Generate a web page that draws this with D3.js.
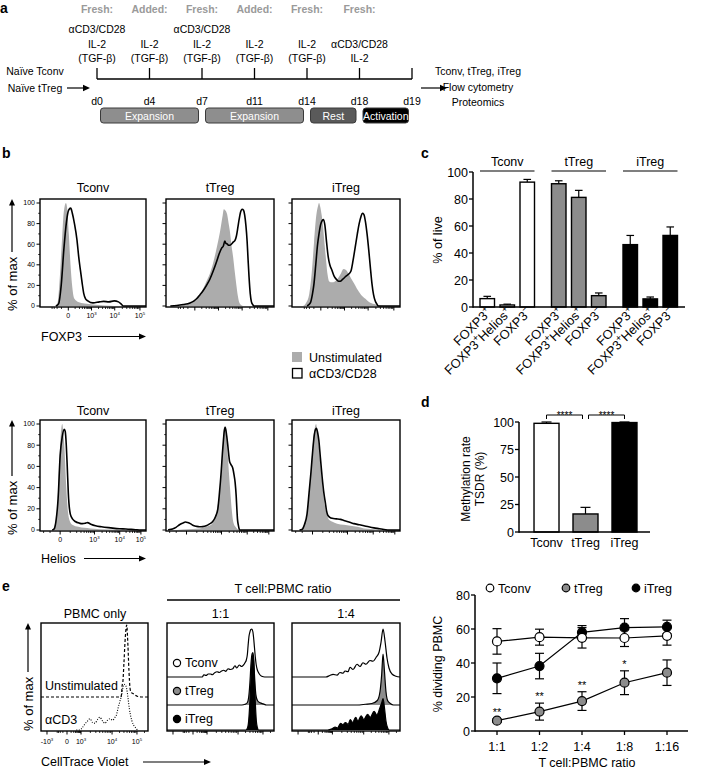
<!DOCTYPE html>
<html><head><meta charset="utf-8">
<script src="https://cdn.jsdelivr.net/npm/d3@7"></script>
<style>
body{margin:0;background:#fff;}
svg{display:block;font-family:"Liberation Sans",Arial,Helvetica,sans-serif;}
</style></head><body>
<svg id="fig" width="709" height="769"></svg>
<script>
// ================= DATA =================
// ---- panel a
const days = ["d0","d4","d7","d11","d14","d18","d19"];
const additionKind = ["Fresh:","Added:","Fresh:","Added:","Fresh:","Fresh:"];
const additionItems = [
  ["αCD3/CD28","IL-2","(TGF-β)"],
  ["IL-2","(TGF-β)"],
  ["αCD3/CD28","IL-2","(TGF-β)"],
  ["IL-2","(TGF-β)"],
  ["IL-2","(TGF-β)"],
  ["αCD3/CD28","IL-2"]
];
const phaseNames = ["Expansion","Expansion","Rest","Activation"];
const phaseFrom = ["d0","d7","d14","d18"];
const phaseTo = ["d7","d14","d18","d19"];
const inputCells = ["Naïve Tconv","Naïve tTreg"];
const outputs = ["Tconv, tTreg, iTreg","Flow cytometry","Proteomics"];

// ---- panel b (channel 0-1000, % of max)
const cellTypes = ["Tconv","tTreg","iTreg"];
const foxp3Unstim_Tconv = [[140,0],[165,3],[185,25],[205,60],[225,92],[245,100],[258,93],[272,70],[288,40],[305,18],[325,7],[360,4],[420,2.5],[500,1.5],[600,0.5],[700,0],[1000,0]];
const foxp3Stim_Tconv = [[150,0],[175,2],[200,20],[225,55],[250,82],[270,93],[290,95],[305,90],[325,80],[349,64],[365,48],[381,35],[398,22],[413,12],[430,7],[451,5],[500,3],[560,4],[600,4.5],[650,4],[700,5],[740,4],[765,2],[785,0],[1000,0]];
const foxp3Unstim_tTreg = [[80,0],[160,1],[222,3],[280,7],[314,11],[345,17],[375,24],[405,31],[437,42],[460,52],[483,63],[500,72],[514,81],[525,88],[535,94],[548,93],[566,89],[580,80],[591,73],[605,60],[622,47],[637,33],[652,20],[665,10],[677,4],[695,1],[714,0],[1000,0]];
const foxp3Stim_tTreg = [[40,0],[100,0.5],[160,1.5],[222,3],[260,5],[283,7],[315,11],[345,15],[375,20],[406,26],[437,34],[468,43],[490,50],[514,56],[530,58],[545,63],[554,61],[569,60],[580,59],[591,59],[605,60],[622,62],[640,64],[652,68],[665,76],[677,84],[690,91],[705,94],[718,93],[729,88],[740,78],[751,63],[760,45],[769,28],[780,12],[791,4],[805,1],[815,0],[1000,0]];
const foxp3Unstim_iTreg = [[100,0],[130,3],[160,12],[185,35],[204,62],[225,88],[241,97],[250,100],[262,96],[275,88],[287,78],[300,62],[315,45],[330,30],[343,24],[360,23],[380,23],[400,24],[426,27],[450,31],[477,36],[500,35],[525,31],[546,27],[574,22],[600,17],[639,11],[680,7],[713,4],[760,2],[796,1],[850,0],[1000,0]];
const foxp3Stim_iTreg = [[140,0],[170,3],[190,12],[204,22],[220,40],[235,58],[250,70],[265,79],[280,83],[292,84],[305,78],[320,62],[335,48],[350,40],[369,35],[390,29],[410,26],[430,24],[446,24],[470,26],[500,29],[525,31],[546,34],[565,44],[585,57],[605,70],[622,80],[639,87],[652,90],[665,89],[680,82],[695,70],[710,55],[725,38],[740,22],[755,11],[770,5],[785,2],[800,0],[1000,0]];
const heliosUnstim_Tconv = [[110,0],[124,1],[140,5],[162,20],[181,60],[200,95],[210,100],[220,92],[229,80],[248,40],[257,25],[276,10],[305,5],[362,3],[476,1.5],[667,0.5],[857,0],[1000,0]];
const heliosStim_Tconv = [[115,0],[133,1],[150,8],[171,30],[190,70],[210,88],[229,95],[238,93],[248,80],[257,60],[267,35],[286,15],[310,10],[333,8],[370,6.5],[400,6],[430,6.5],[448,7],[480,5.5],[524,4],[580,3],[667,2],[750,1.2],[810,1],[900,0.3],[952,0],[1000,0]];
const heliosUnstim_tTreg = [[100,0],[155,0.5],[250,1],[310,1.5],[370,3],[418,5],[445,9],[464,15],[480,24],[495,35],[508,52],[520,70],[530,85],[539,95],[548,98],[556,93],[563,85],[572,70],[582,55],[591,42],[600,30],[610,18],[619,10],[631,5],[644,3],[660,1],[681,0],[1000,0]];
const heliosStim_tTreg = [[20,0],[31,0.5],[60,1],[93,2.5],[125,5],[155,6.5],[180,7.5],[201,7],[225,6],[248,4.5],[280,3.5],[310,3],[340,3.2],[372,4],[400,5.5],[433,8],[460,13],[480,20],[495,35],[511,55],[522,72],[532,85],[540,94],[548,97],[555,94],[563,88],[572,80],[580,72],[588,65],[600,62],[612,60],[619,58],[630,52],[640,45],[650,32],[656,20],[662,10],[669,5],[675,2],[681,0],[1000,0]];
const heliosUnstim_iTreg = [[60,0],[77,0.5],[110,5],[139,15],[155,30],[170,50],[185,70],[201,90],[212,97],[223,100],[235,92],[248,80],[263,62],[279,45],[295,30],[310,20],[325,14],[341,10],[370,8],[418,6],[480,5],[542,4],[604,3],[666,1.5],[728,1],[790,0.5],[851,0],[1000,0]];
const heliosStim_iTreg = [[70,0],[93,0.5],[115,5],[139,15],[158,35],[176,55],[192,75],[207,90],[218,95],[226,96],[237,92],[248,85],[263,68],[279,50],[295,35],[310,25],[320,18],[331,14],[350,12],[372,11],[410,10.5],[449,10],[480,9],[511,8],[542,7],[573,6],[620,5],[666,4],[710,3],[759,2],[810,1.2],[851,0.5],[913,0],[1000,0]];
const pctTicks = [0,20,40,60,80,100];
const foxp3TickLabels = ["0","10^3","10^4","10^5"];
const foxp3TickChannels = [267,486,705,943];
const heliosTickLabels = ["0","10^3","10^4","10^5"];
const heliosTickChannels = [190,514,752,952];
const legendB = ["Unstimulated","αCD3/CD28"];

// ---- panel c
const cGroups = ["Tconv","tTreg","iTreg"];
const cSubsets = ["FOXP3^+","FOXP3^+Helios^+","FOXP3^−"];
const cMeans = [[6.2,1.5,92.5],[91.3,81.2,8.4],[46.2,6,53]];
const cErrs = [[1.7,0.6,2],[2.2,5.2,2],[6.8,1.4,6.3]];
const cTicks = [0,20,40,60,80,100];

// ---- panel d
const dGroups = ["Tconv","tTreg","iTreg"];
const dMeans = [98.8,16.4,99.5];
const dErrs = [1.2,6,0.5];
const dTicks = [0,25,50,75,100];
const dComparisons = [["Tconv","tTreg","****"],["tTreg","iTreg","****"]];

// ---- panel e (histograms: channel 0-1000, relative height)
const ctvTickLabels = ["-10^3","0","10^3","10^4","10^5"];
const ctvTickChannels = [56,243,374,664,897];
const pbmcUnstim = [[0,0],[745,0],[752,3],[758,15],[765,20],[775,45],[788,80],[801,96],[812,70],[822,35],[832,12],[842,6],[855,5],[875,3],[900,1],[940,0],[1000,0]];
const pbmcCD3 = [[330,0],[364,0],[385,3],[411,8],[435,12],[458,15],[482,10],[505,9],[528,14],[551,17],[575,12],[598,9],[622,13],[645,15],[670,13],[692,17],[705,20],[720,29],[737,38],[754,47],[766,57],[776,61],[788,60],[801,55],[813,43],[825,29],[836,20],[848,13],[864,7],[879,4],[895,1],[910,0]];
const ratio11_Tconv = [[0,0],[329,0],[345,3],[365,2],[385,4],[406,4],[425,3],[445,5.5],[468,7],[490,6],[510,8],[529,9],[550,7.5],[570,11],[591,10],[615,11],[635,15],[652,12],[675,16],[698,14],[715,16],[729,19],[742,23],[751,30],[758,42],[766,54],[775,60],[782,63],[794,64],[803,60],[809,53],[817,40],[825,27],[833,17],[843,10],[855,6],[868,3],[885,1],[914,0],[1000,0]];
const ratio11_tTreg = [[0,0],[700,0],[730,1],[750,3],[763,10],[775,30],[785,55],[795,68],[803,70],[810,62],[817,42],[825,22],[835,10],[850,5],[870,3],[900,1.5],[930,0],[1000,0]];
const ratio11_iTreg = [[0,0],[735,0],[750,2],[763,12],[775,38],[788,75],[797,96],[802,100],[808,95],[815,75],[825,38],[835,12],[845,3],[855,0],[1000,0]];
const ratio14_Tconv = [[0,0],[315,0],[350,2],[380,3.5],[417,2.5],[444,6],[472,5],[491,8],[519,7],[537,13],[565,10],[602,17],[630,14],[657,19],[685,17],[722,22],[750,21],[778,26],[806,33],[824,46],[843,64],[861,48],[880,25],[898,12],[926,4],[963,1],[1000,0]];
const ratio14_tTreg = [[0,0],[600,0],[680,1],[740,2],[790,6],[815,18],[830,40],[843,68],[856,45],[870,18],[885,6],[910,2],[940,0],[1000,0]];
const ratio14_iTreg = [[0,0],[330,0],[370,1.5],[400,4],[420,2.5],[450,9],[470,7],[495,10],[520,7.5],[540,14],[560,10],[590,17],[610,12],[640,19],[665,14],[700,21],[725,17],[760,25],[785,20],[815,30],[830,36],[843,42],[856,30],[870,12],[885,3],[900,0],[1000,0]];
const ratioPanels = ["1:1","1:4"];
const laneLabels = ["Tconv","tTreg","iTreg"];

// ---- panel e line chart
const ratios = ["1:1","1:2","1:4","1:8","1:16"];
const tconvDiv = [52.7,55.2,54.8,54.7,56];
const tconvErr = [7.5,4.7,6,5,5.5];
const tTregDiv = [6.1,11.4,17.6,28.4,34.3];
const tTregErr = [1,5,5.5,7,7.5];
const iTregDiv = [31,38.2,58,60.8,61.2];
const iTregErr = [9,7.5,4,5.3,4];
const tTregSig = ["**","**","**","*",""];
const eTicks = [0,20,40,60,80];

// ================= STYLE =================
const C = {gray:"#8c8c8c", light:"#acacac", dark:"#5b5b5b", black:"#000", label:"#9a9a9a"};
const phaseFill = {"Expansion":"#8e8e8e","Rest":"#5a5a5a","Activation":"#000"};
const cellFill = {"Tconv":"#fff","tTreg":C.gray,"iTreg":"#000"};

const svg = d3.select("#fig");

function rich(t, s, size, supF=0.62){
  const parts = s.split(/\^(.)/);
  const supSize = size*supF, shift = size*0.42;
  let up = false;
  parts.forEach((p,i)=>{
    if(p==="") return;
    const sp = t.append("tspan").text(p);
    if(i%2===1){ sp.attr("font-size",supSize); if(!up){ sp.attr("dy",-shift); up=true; } }
    else if(up){ sp.attr("dy",shift); up=false; }
  });
}
function T(g,x,y,s,o={}){
  const size = o.size||12.5;
  const t = g.append("text").attr("font-size",size).attr("text-anchor",o.anchor||"start").attr("fill",o.fill||"#000");
  if(o.rotate!==undefined) t.attr("transform",`translate(${x},${y}) rotate(${o.rotate})`);
  else t.attr("x",x).attr("y",y);
  if(o.weight) t.attr("font-weight",o.weight);
  rich(t,s,size,o.supF||0.62);
  return t;
}
function L(g,x1,y1,x2,y2,sw=1.2,col="#000"){
  return g.append("line").attr("x1",x1).attr("y1",y1).attr("x2",x2).attr("y2",y2).attr("stroke",col).attr("stroke-width",sw);
}
function arrow(g,x1,y1,x2,y2,head=7,hw=3.2,sw=1.2){
  const dx=x2-x1, dy=y2-y1, len=Math.hypot(dx,dy), ux=dx/len, uy=dy/len;
  const bx=x2-ux*head, by=y2-uy*head;
  L(g,x1,y1,bx+ux*1,by+uy*1,sw);
  g.append("path").attr("d",`M${x2},${y2}L${bx-uy*hw},${by+ux*hw}L${bx+uy*hw},${by-ux*hw}Z`).attr("fill","#000");
}
function letter(x,y,s){ T(svg,x,y,s,{size:14,weight:"bold"}); }

// ================= PANEL A =================
{
  const g = svg.append("g");
  letter(0,13,"a");
  const xa = d3.scalePoint().domain(days).range([97,412]);
  const lineY = 79;
  L(g,xa(days[0]),lineY,xa(days[days.length-1]),lineY,1.3);
  days.forEach(d=>{
    L(g,xa(d),lineY-11,xa(d),lineY,1.3);
    T(g,xa(d),105,d,{size:10.5,anchor:"middle"});
  });
  additionKind.forEach((k,i)=>{
    T(g,xa(days[i]),13,k,{size:10.5,anchor:"middle",fill:C.label,weight:"bold"});
    const items = additionItems[i];
    items.forEach((it,j)=>{
      const y = 62 - (items.length-1-j)*14.5;
      T(g,xa(days[i]),y,it,{size:10.5,anchor:"middle"});
    });
  });
  inputCells.forEach((s,i)=>T(g,35,75+i*16.5,s,{size:10.5,anchor:"middle"}));
  arrow(g,67,88,90,88,7,3.2);
  arrow(g,421,88,447,88,7,3.2);
  outputs.forEach((s,i)=>T(g,478,75+i*15.5,s,{size:10.5,anchor:"middle"}));
  phaseNames.forEach((p,i)=>{
    const x1 = xa(phaseFrom[i])+3.5, x2 = xa(phaseTo[i])-3.5;
    g.append("rect").attr("x",x1).attr("y",108).attr("width",x2-x1).attr("height",15).attr("rx",3)
      .attr("fill",phaseFill[p]).attr("stroke","#3a3a3a").attr("stroke-width",1);
    T(g,(x1+x2)/2,120,p,{size:10.5,anchor:"middle",fill:"#fff"});
  });
}

// ================= FLOW HISTOGRAM HELPERS =================
function minorChannels(maj){ // maj: [c0,c3,c4,c5]
  const [c0,c3,c4,c5]=maj, out=[];
  for(let k=1;k<=9;k++){ out.push(c0+(c3-c0)*Math.asinh(k)/Math.asinh(10)); }
  for(let k=1;k<=4;k++){ const c=c0-(c3-c0)*Math.asinh(k)/Math.asinh(10); if(c>0) out.push(c); }
  for(let k=2;k<=9;k++){ out.push(c3+(c4-c3)*Math.log10(k)); out.push(c4+(c5-c4)*Math.log10(k)); }
  out.push(c5+(c5-c4)*Math.log10(2));
  return out.filter(c=>c>0&&c<1000);
}
let clipId=0;
function makeClip(x,y,w,h){
  const id="clip"+(clipId++);
  svg.append("clipPath").attr("id",id).append("rect").attr("x",x).attr("y",y).attr("width",w).attr("height",h);
  return `url(#${id})`;
}

// ================= PANEL B =================
{
  letter(2,158,"b");
  const boxX = [40,166,292], boxW = [106,108,108];
  const rows = [
    {y0:199,h:108,title:192,unstim:[foxp3Unstim_Tconv,foxp3Unstim_tTreg,foxp3Unstim_iTreg],stim:[foxp3Stim_Tconv,foxp3Stim_tTreg,foxp3Stim_iTreg],tc:foxp3TickChannels,tl:foxp3TickLabels,name:"FOXP3"},
    {y0:420,h:111,title:415,unstim:[heliosUnstim_Tconv,heliosUnstim_tTreg,heliosUnstim_iTreg],stim:[heliosStim_Tconv,heliosStim_tTreg,heliosStim_iTreg],tc:heliosTickChannels,tl:heliosTickLabels,name:"Helios"}
  ];
  rows.forEach((r,ri)=>{
    cellTypes.forEach((ct,ci)=>{
      const g = svg.append("g");
      const x0=boxX[ci], w=boxW[ci];
      const xs = d3.scaleLinear().domain([0,1000]).range([x0,x0+w]);
      const ys = d3.scaleLinear().domain([0,100]).range([r.y0+r.h-1,r.y0+4]);
      const clip = makeClip(x0,r.y0,w,r.h);
      const gc = g.append("g").attr("clip-path",clip);
      gc.append("path").datum(r.unstim[ci]).attr("fill",C.light)
        .attr("d",d3.area().x(d=>xs(d[0])).y0(ys(0)).y1(d=>ys(d[1])).curve(d3.curveMonotoneX));
      gc.append("path").datum(r.stim[ci]).attr("fill","none").attr("stroke","#000").attr("stroke-width",1.6)
        .attr("d",d3.line().x(d=>xs(d[0])).y(d=>ys(d[1])).curve(d3.curveMonotoneX));
      g.append("rect").attr("x",x0).attr("y",r.y0).attr("width",w).attr("height",r.h).attr("fill","none").attr("stroke","#000").attr("stroke-width",1.4);
      T(g,x0+w/2,r.title,ct,{anchor:"middle"});
      pctTicks.forEach(v=>{
        L(g,x0-3.5,ys(v),x0,ys(v),1);
        if(ci===0) T(g,x0-5,ys(v)+2.4,String(v),{size:7,anchor:"end"});
      });
      for(let v=10;v<100;v+=20) L(g,x0-1.8,ys(v),x0,ys(v),0.8);
      const yb=r.y0+r.h;
      r.tc.forEach((c,k)=>{
        L(g,xs(c),yb,xs(c),yb+3.5,1);
        if(ci===0) T(g,xs(c),yb+11,r.tl[k],{size:7,anchor:"middle"});
      });
      minorChannels(r.tc).forEach(c=>L(g,xs(c),yb,xs(c),yb+2,0.8));
    });
    const yb = r.y0+r.h+4;
    T(svg,17,yb,"% of max",{size:13,rotate:-90});
    arrow(svg,12,yb-59,12,r.y0,6.5,3);
    const ly = ri===0?341:563;
    T(svg,41,ly,r.name,{size:12.5});
    arrow(svg,ri===0?88:84,ly-4.5,146,ly-4.5,7,3);
  });
  const lg = svg.append("g");
  lg.append("rect").attr("x",292).attr("y",352).attr("width",10).attr("height",10).attr("fill",C.light);
  lg.append("rect").attr("x",292.5).attr("y",368.5).attr("width",9.5).attr("height",9.5).attr("fill","#fff").attr("stroke","#000").attr("stroke-width",1.3);
  T(lg,309,361.5,legendB[0]);
  T(lg,309,377.5,legendB[1]);
}

// ================= PANEL C =================
{
  const g = svg.append("g");
  letter(421,158,"c");
  const y = d3.scaleLinear().domain([0,100]).range([307,172]);
  const xg = d3.scaleBand().domain(cGroups).range([471.5,686]);
  const xi = d3.scaleBand().domain(cSubsets).range([0,xg.bandwidth()]).paddingInner(0.275).paddingOuter(0.425);
  const axisX = 473;
  cGroups.forEach((grp,gi)=>{
    cSubsets.forEach((sub,si)=>{
      const bx = xg(grp)+xi(sub), bw = xi.bandwidth(), cx = bx+bw/2;
      const m = cMeans[gi][si], e = cErrs[gi][si];
      L(g,cx,y(m),cx,y(m+e),1.2);
      L(g,cx-3.8,y(m+e),cx+3.8,y(m+e),1.2);
      g.append("rect").attr("x",bx).attr("y",y(m)).attr("width",bw).attr("height",y(0)-y(m))
        .attr("fill",cellFill[grp]).attr("stroke","#000").attr("stroke-width",1.4);
      T(g,cx+5,313,sub,{size:12.8,anchor:"end",rotate:-45,supF:0.72});
    });
    const l1 = xg(grp)+xi(cSubsets[0]), l2 = xg(grp)+xi(cSubsets[2])+xi.bandwidth();
    L(g,l1,171,l2,171,1.2);
    T(g,(l1+l2)/2,166,grp,{anchor:"middle"});
  });
  L(g,axisX,y(0),685,y(0),1.5);
  L(g,axisX,y(0)+0.75,axisX,y(100),1.5);
  cTicks.forEach(v=>{ L(g,axisX-4,y(v),axisX,y(v),1.3); T(g,axisX-5,y(v)+4.5,String(v),{anchor:"end"}); });
  T(g,442,240,"% of live",{anchor:"middle",rotate:-90});
}

// ================= PANEL D =================
{
  const g = svg.append("g");
  letter(421,407,"d");
  const y = d3.scaleLinear().domain([0,100]).range([532,422]);
  const x = d3.scaleBand().domain(dGroups).range([527,644]).paddingInner(0.359).paddingOuter(0.18);
  const axisX = 519;
  dGroups.forEach((grp,i)=>{
    const bx=x(grp), bw=x.bandwidth(), cx=bx+bw/2, m=dMeans[i], e=dErrs[i];
    L(g,cx,y(m),cx,y(m+e),1.2);
    L(g,cx-5,y(m+e),cx+5,y(m+e),1.2);
    g.append("rect").attr("x",bx).attr("y",y(m)).attr("width",bw).attr("height",y(0)-y(m))
      .attr("fill",cellFill[grp]).attr("stroke","#000").attr("stroke-width",1.4);
    T(g,cx,547,grp,{anchor:"middle"});
  });
  L(g,axisX,y(0),650,y(0),1.5);
  L(g,axisX,y(0)+0.75,axisX,y(100),1.5);
  dTicks.forEach(v=>{ L(g,axisX-4,y(v),axisX,y(v),1.3); T(g,axisX-5,y(v)+4.5,String(v),{anchor:"end"}); });
  T(g,470,479,"Methylation rate",{size:12,anchor:"middle",rotate:-90});
  T(g,484,479,"TSDR (%)",{size:12,anchor:"middle",rotate:-90});
  dComparisons.forEach(([a,b,s],k)=>{
    const xa = x(a)+x.bandwidth()/2 + (k===0?0:3), xb = x(b)+x.bandwidth()/2 - (k===0?3:0);
    const yy = 415;
    g.append("path").attr("d",`M${xa},${yy+4}V${yy}H${xb}V${yy+4}`).attr("fill","none").attr("stroke","#000").attr("stroke-width",1);
    T(g,(xa+xb)/2,yy+4,s,{size:10,anchor:"middle"});
  });
}

// ================= PANEL E (histograms) =================
{
  letter(2,591,"e");
  const yH = d3.scaleLinear().domain([0,100]).range([0,75]);
  const boxY = 623, boxH = 108;
  {
    const g = svg.append("g");
    const x0=41, w=107;
    const xs = d3.scaleLinear().domain([0,1000]).range([x0,x0+w]);
    const gc = g.append("g").attr("clip-path",makeClip(x0,boxY,w,boxH));
    const base1 = 697, base2 = 730;
    gc.append("path").datum(pbmcUnstim).attr("fill","none").attr("stroke","#000").attr("stroke-width",1.2).attr("stroke-dasharray","3,2")
      .attr("d",d3.line().x(d=>xs(d[0])).y(d=>base1-yH(d[1])).curve(d3.curveMonotoneX));
    gc.append("path").datum(pbmcCD3).attr("fill","none").attr("stroke","#000").attr("stroke-width",1.1).attr("stroke-dasharray","1,1.5")
      .attr("d",d3.line().x(d=>xs(d[0])).y(d=>base2-yH(d[1])).curve(d3.curveMonotoneX));
    g.append("rect").attr("x",x0).attr("y",boxY).attr("width",w).attr("height",boxH).attr("fill","none").attr("stroke","#000").attr("stroke-width",1.4);
    T(g,45,690,"Unstimulated");
    T(g,45,724,"αCD3");
    T(g,x0+w/2+0.5,618,"PBMC only",{anchor:"middle"});
    const yb=boxY+boxH;
    ctvTickChannels.forEach((c,k)=>{ L(g,xs(c),yb,xs(c),yb+3.5,1); T(g,xs(c),yb+13,ctvTickLabels[k],{size:7,anchor:"middle"}); });
    minorChannels(ctvTickChannels.slice(1)).forEach(c=>L(g,xs(c),yb,xs(c),yb+2,0.8));
  }
  const ratioData = [[ratio11_Tconv,ratio11_tTreg,ratio11_iTreg],[ratio14_Tconv,ratio14_tTreg,ratio14_iTreg]];
  const rX = [167,292], rW = [107,108];
  const bases = [677,705,730];
  ratioPanels.forEach((rp,pi)=>{
    const g = svg.append("g");
    const x0=rX[pi], w=rW[pi];
    const xs = d3.scaleLinear().domain([0,1000]).range([x0,x0+w]);
    const gc = g.append("g").attr("clip-path",makeClip(x0,boxY,w,boxH));
    ratioData[pi].forEach((arr,li)=>{
      const base = bases[li];
      const fill = li===0?"#fff":(li===1?C.gray:"#000");
      gc.append("path").datum(arr).attr("fill",fill)
        .attr("d",d3.area().x(d=>xs(d[0])).y0(base).y1(d=>base-yH(d[1])).curve(d3.curveMonotoneX));
      gc.append("path").datum(arr).attr("fill","none").attr("stroke","#000").attr("stroke-width",1.2)
        .attr("d",d3.line().x(d=>xs(d[0])).y(d=>base-yH(d[1])).curve(d3.curveMonotoneX));
    });
    g.append("rect").attr("x",x0).attr("y",boxY).attr("width",w).attr("height",boxH).attr("fill","none").attr("stroke","#000").attr("stroke-width",1.4);
    T(g,x0+w/2,618,rp,{anchor:"middle"});
    const yb=boxY+boxH;
    ctvTickChannels.forEach(c=>L(g,xs(c),yb,xs(c),yb+3.5,1));
    minorChannels(ctvTickChannels.slice(1)).forEach(c=>L(g,xs(c),yb,xs(c),yb+2,0.8));
    if(pi===0){
      const ly=[663,691,719], ty=[667,695,723];
      laneLabels.forEach((lab,k)=>{
        g.append("circle").attr("cx",177).attr("cy",ly[k]).attr("r",3.6).attr("fill",cellFill[lab]).attr("stroke","#000").attr("stroke-width",1.2);
        T(g,185,ty[k],lab);
      });
    }
  });
  L(svg,167,600,400,600,1.3);
  T(svg,283,593,"T cell:PBMC ratio",{anchor:"middle"});
  T(svg,33,731,"% of max",{size:13,rotate:-90});
  arrow(svg,28,672,28,623,6.5,3);
  T(svg,41,766,"CellTrace Violet");
  arrow(svg,143,762,211,762,7,3);
}

// ================= PANEL E (line chart) =================
{
  const g = svg.append("g");
  const x = d3.scalePoint().domain(ratios).range([497,667]);
  const y = d3.scaleLinear().domain([0,80]).range([731,595]);
  const axisX = 475;
  L(g,axisX,y(0),688,y(0),1.5);
  L(g,axisX,y(0)+0.75,axisX,y(80),1.5);
  eTicks.forEach(v=>{ L(g,axisX-4,y(v),axisX,y(v),1.3); T(g,axisX-5,y(v)+4.5,String(v),{anchor:"end"}); });
  ratios.forEach(r=>{ L(g,x(r),y(0),x(r),y(0)+4,1.3); T(g,x(r),751,r,{anchor:"middle"}); });
  T(g,587,767,"T cell:PBMC ratio",{anchor:"middle"});
  T(g,442,664,"% dividing PBMC",{anchor:"middle",rotate:-90});
  const series = [
    {name:"iTreg",m:iTregDiv,e:iTregErr},
    {name:"tTreg",m:tTregDiv,e:tTregErr},
    {name:"Tconv",m:tconvDiv,e:tconvErr}
  ];
  series.forEach(s=>{
    s.m.forEach((v,i)=>{
      const cx=x(ratios[i]);
      L(g,cx,y(v-s.e[i]),cx,y(v+s.e[i]),1.2);
      L(g,cx-4.5,y(v+s.e[i]),cx+4.5,y(v+s.e[i]),1.2);
      L(g,cx-4.5,y(v-s.e[i]),cx+4.5,y(v-s.e[i]),1.2);
    });
  });
  series.forEach(s=>{
    g.append("path").datum(s.m).attr("fill","none").attr("stroke","#000").attr("stroke-width",1.2)
      .attr("d",d3.line().x((d,i)=>x(ratios[i])).y(d=>y(d)));
  });
  series.forEach(s=>{
    s.m.forEach((v,i)=>{
      g.append("circle").attr("cx",x(ratios[i])).attr("cy",y(v)).attr("r",4.5)
        .attr("fill",cellFill[s.name]).attr("stroke","#000").attr("stroke-width",1.2);
    });
  });
  tTregSig.forEach((s,i)=>{
    if(!s) return;
    T(g,x(ratios[i]),y(tTregDiv[i]+tTregErr[i])-3,s,{size:11,anchor:"middle"});
  });
  const lx=[490,566,636];
  ["Tconv","tTreg","iTreg"].forEach((n,k)=>{
    g.append("circle").attr("cx",lx[k]).attr("cy",588).attr("r",3.8).attr("fill",cellFill[n]).attr("stroke","#000").attr("stroke-width",1.2);
    T(g,lx[k]+8,592.5,n);
  });
}
</script>
</body></html>
